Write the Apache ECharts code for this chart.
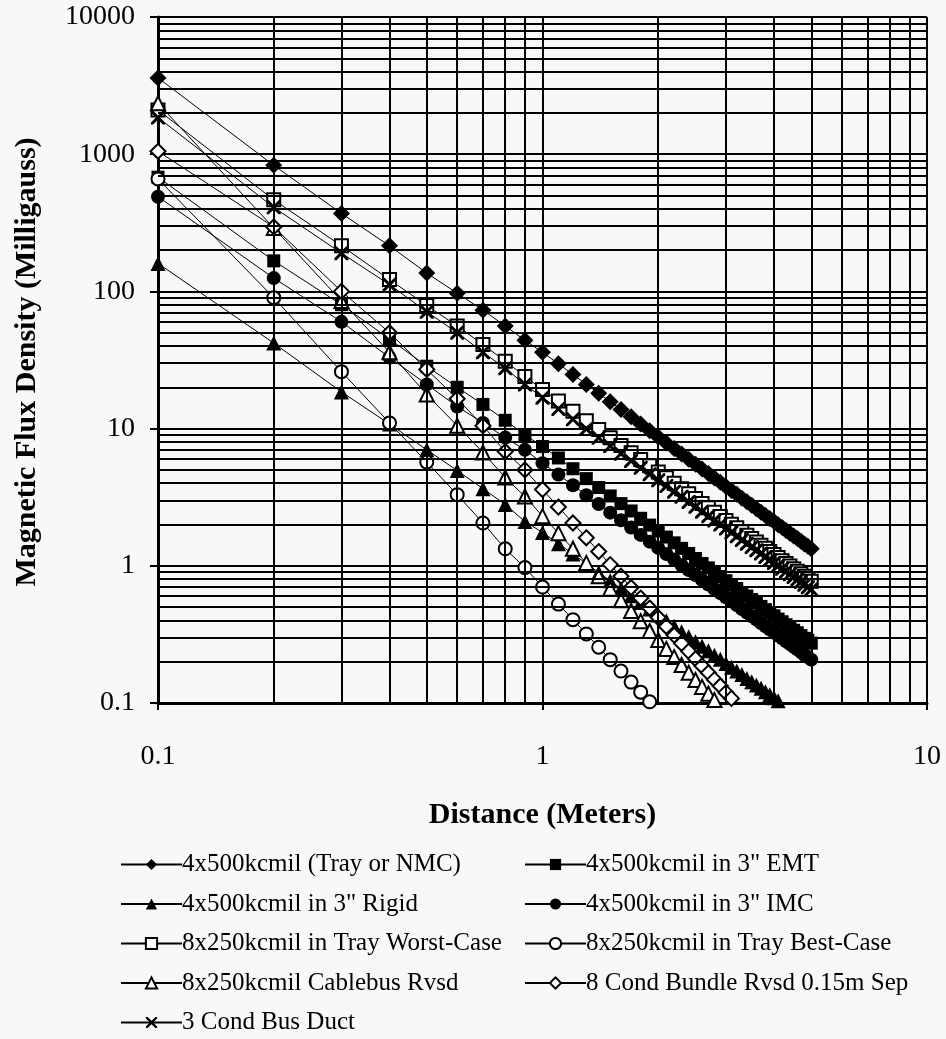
<!DOCTYPE html>
<html lang="en">
<head>
    <meta charset="utf-8"/>
    <title>Magnetic Flux Density vs Distance</title>
    <script src="https://cdn.jsdelivr.net/npm/echarts@6/dist/echarts.min.js"></script>
    <style>
        html, body { margin: 0; padding: 0; background: #f8f8f8; }
        #main { width: 946px; height: 1039px; }
    </style>
</head>
<body>
<div id="main"></div>
<script>
    // distance in meters
    var distance = [0.1, 0.2, 0.3, 0.4, 0.5, 0.6, 0.7, 0.8, 0.9, 1.0,
        1.1, 1.2, 1.3, 1.4, 1.5, 1.6, 1.7, 1.8, 1.9, 2.0,
        2.1, 2.2, 2.3, 2.4, 2.5, 2.6, 2.7, 2.8, 2.9, 3.0,
        3.1, 3.2, 3.3, 3.4, 3.5, 3.6, 3.7, 3.8, 3.9, 4.0,
        4.1, 4.2, 4.3, 4.4, 4.5, 4.6, 4.7, 4.8, 4.9, 5.0];

    // milligauss
    var trayNmc = [3600, 830, 370, 215, 136, 97, 73, 56, 44, 36,
        29.7, 24.8, 21.0, 18.1, 15.7, 13.8, 12.2, 10.8, 9.65, 8.69,
        7.86, 7.15, 6.52, 5.98, 5.50, 5.07, 4.70, 4.36, 4.06, 3.79,
        3.54, 3.32, 3.11, 2.93, 2.76, 2.61, 2.46, 2.33, 2.21, 2.10,
        1.99, 1.90, 1.81, 1.73, 1.65, 1.58, 1.51, 1.44, 1.39, 1.33];
    var emt = [680, 167, 80, 45, 28.5, 20, 15, 11.5, 9.0, 7.4,
        6.11, 5.10, 4.32, 3.72, 3.23, 2.84, 2.51, 2.22, 1.98, 1.79,
        1.62, 1.47, 1.34, 1.23, 1.13, 1.04, 0.966, 0.896, 0.835, 0.779,
        0.728, 0.683, 0.639, 0.602, 0.567, 0.537, 0.506, 0.479, 0.454, 0.432,
        0.409, 0.391, 0.372, 0.356, 0.339, 0.325, 0.310, 0.296, 0.286, 0.273];
    var rigid = [160, 42, 18.5, 10.8, 7.0, 4.95, 3.65, 2.8, 2.1, 1.75,
        1.45, 1.22, 1.04, 0.893, 0.778, 0.684, 0.606, 0.540, 0.485, 0.438,
        0.397, 0.362, 0.331, 0.304, 0.280, 0.259, 0.240, 0.223, 0.208, 0.194,
        0.182, 0.171, 0.161, 0.151, 0.143, 0.135, 0.128, 0.121, 0.115, 0.109,
        0.104, 0.0993, 0.0947, 0.0904, 0.0864, 0.0827, 0.0793, 0.0760, 0.0729, 0.070];
    var imc = [490, 125, 60, 33, 21, 14.5, 11, 8.6, 7.0, 5.6,
        4.62, 3.86, 3.27, 2.82, 2.44, 2.15, 1.90, 1.68, 1.50, 1.35,
        1.22, 1.11, 1.01, 0.930, 0.856, 0.789, 0.731, 0.678, 0.632, 0.590,
        0.551, 0.517, 0.484, 0.456, 0.429, 0.406, 0.383, 0.363, 0.344, 0.327,
        0.310, 0.296, 0.282, 0.269, 0.257, 0.246, 0.235, 0.224, 0.216, 0.207];
    var worstCase = [2100, 465, 215, 122, 79, 56, 41, 31, 24, 19.3,
        15.9, 13.4, 11.4, 9.85, 8.58, 7.54, 6.68, 5.96, 5.35, 4.83,
        4.38, 3.99, 3.65, 3.35, 3.09, 2.85, 2.65, 2.46, 2.29, 2.14,
        2.01, 1.89, 1.77, 1.67, 1.58, 1.49, 1.41, 1.34, 1.27, 1.21,
        1.15, 1.09, 1.04, 0.998, 0.953, 0.913, 0.874, 0.838, 0.803, 0.772];
    var bestCase = [660, 90, 26, 11, 5.7, 3.3, 2.05, 1.33, 0.97, 0.70,
        0.526, 0.405, 0.319, 0.255, 0.207, 0.171, 0.142, 0.120, 0.102, 0.0875,
        0.0756, 0.0657, 0.0575, 0.0506, 0.0448, 0.0398, 0.0356, 0.0319, 0.0287, 0.0259,
        0.0235, 0.0214, 0.0195, 0.0178, 0.0163, 0.0150, 0.0138, 0.0127, 0.0118, 0.0109,
        0.0102, 0.0095, 0.0088, 0.0082, 0.0077, 0.0072, 0.0067, 0.0063, 0.0060, 0.0056];
    var cablebus = [2350, 290, 85, 36, 17.7, 10.5, 6.7, 4.4, 3.2, 2.3,
        1.73, 1.33, 1.05, 0.838, 0.681, 0.561, 0.468, 0.394, 0.335, 0.288,
        0.248, 0.216, 0.189, 0.166, 0.147, 0.131, 0.117, 0.105, 0.0943, 0.0851,
        0.0773, 0.0702, 0.0639, 0.0584, 0.0536, 0.0492, 0.0453, 0.0419, 0.0389, 0.0359,
        0.0334, 0.0311, 0.0290, 0.0269, 0.0253, 0.0237, 0.0221, 0.0207, 0.0196, 0.0184];
    var bundle = [1050, 295, 100, 50, 27, 16.5, 10.5, 6.8, 5.0, 3.6,
        2.68, 2.05, 1.60, 1.27, 1.02, 0.839, 0.695, 0.582, 0.492, 0.420,
        0.361, 0.312, 0.272, 0.238, 0.210, 0.186, 0.166, 0.148, 0.133, 0.119,
        0.108, 0.0979, 0.0887, 0.0809, 0.0740, 0.0678, 0.0622, 0.0573, 0.0531, 0.0490,
        0.0453, 0.0421, 0.0392, 0.0363, 0.0341, 0.0318, 0.0297, 0.0277, 0.0261, 0.0245];
    var busDuct = [1850, 410, 190, 112, 71, 50, 36, 27.5, 21, 16.8,
        13.9, 11.7, 9.94, 8.57, 7.47, 6.56, 5.81, 5.18, 4.65, 4.20,
        3.81, 3.47, 3.18, 2.92, 2.69, 2.48, 2.30, 2.14, 2.00, 1.87,
        1.75, 1.64, 1.54, 1.45, 1.37, 1.30, 1.23, 1.16, 1.10, 1.05,
        1.00, 0.952, 0.909, 0.868, 0.830, 0.794, 0.761, 0.729, 0.699, 0.672];

    // minor grid lines (log decades)
    var xMinorTicks = [0.2, 0.3, 0.4, 0.5, 0.6, 0.7, 0.8, 0.9, 2, 3, 4, 5, 6, 7, 8, 9];
    var yDecades = [0.1, 1, 10, 100, 1000];
    var yMinorSteps = [2, 3, 4, 5, 6, 7, 8, 9];

    var legendLeft = ['4x500kcmil (Tray or NMC)', '4x500kcmil in 3" Rigid',
        '8x250kcmil in Tray Worst-Case', '8x250kcmil Cablebus Rvsd', '3 Cond Bus Duct'];
    var legendRight = ['4x500kcmil in 3" EMT', '4x500kcmil in 3" IMC',
        '8x250kcmil in Tray Best-Case', '8 Cond Bundle Rvsd 0.15m Sep'];

    var FONT = 'Liberation Serif';
    var crossPath = 'path://M0,0 L3,0 L10,7 L17,0 L20,0 L20,3 L13,10 L20,17 L20,20 L17,20 L10,13 L3,20 L0,20 L0,17 L7,10 L0,3 Z';

    var minorLines = [];
    xMinorTicks.forEach(function (v) {
        minorLines.push({xAxis: v});
    });
    yDecades.forEach(function (d) {
        yMinorSteps.forEach(function (m) {
            minorLines.push({yAxis: +(d * m).toPrecision(6)});
        });
    });

    function pairs(values) {
        return distance.map(function (d, i) {
            return [d, values[i]];
        });
    }

    function makeSeries(name, values, symbol, size, filled) {
        return {
            name: name,
            type: 'line',
            data: pairs(values),
            symbol: symbol,
            symbolSize: size,
            clip: true,
            lineStyle: {color: '#000', width: 1},
            itemStyle: filled
                ? {color: '#000'}
                : {color: '#fff', borderColor: '#000', borderWidth: 2},
            emphasis: {disabled: true}
        };
    }

    function makeLegend(left, names) {
        return {
            orient: 'vertical',
            left: left,
            top: 852,
            height: 190,
            padding: 0,
            itemWidth: 61,
            itemHeight: 14,
            itemGap: 14.5,
            selectedMode: false,
            textStyle: {fontFamily: FONT, fontSize: 25, lineHeight: 25, color: '#000', padding: [0, 0, 0, -5]},
            data: names
        };
    }

    var fmt = function (v) {
        return String(+Number(v).toPrecision(6));
    };

    var chart = echarts.init(document.getElementById('main'));
    var option = {
        backgroundColor: '#f8f8f8',
        animation: false,
        textStyle: {fontFamily: FONT, color: '#000'},
        grid: {left: 158, right: 19, top: 17, bottom: 336},
        xAxis: {
            type: 'log',
            logBase: 10,
            min: 0.1,
            max: 10,
            name: 'Distance (Meters)',
            nameLocation: 'middle',
            nameGap: 97,
            nameTextStyle: {fontFamily: FONT, fontSize: 30, fontWeight: 'bold', color: '#000'},
            axisLine: {lineStyle: {color: '#000', width: 3}},
            axisTick: {length: 7, lineStyle: {color: '#000', width: 2}},
            axisLabel: {fontFamily: FONT, fontSize: 28, color: '#000', margin: 40, formatter: fmt},
            splitLine: {show: true, lineStyle: {color: '#000', width: 2}}
        },
        yAxis: {
            type: 'log',
            logBase: 10,
            min: 0.1,
            max: 10000,
            axisLine: {show: true, lineStyle: {color: '#000', width: 3}},
            axisTick: {show: true, length: 8, lineStyle: {color: '#000', width: 2}},
            axisLabel: {fontFamily: FONT, fontSize: 28, color: '#000', margin: 23, formatter: fmt},
            splitLine: {show: true, lineStyle: {color: '#000', width: 2}}
        },
        graphic: [{
            type: 'text',
            x: 27,
            y: 362,
            rotation: Math.PI / 2,
            style: {
                text: 'Magnetic Flux Density (Milligauss)',
                font: 'bold 30px "Liberation Serif"',
                fill: '#000',
                align: 'center',
                verticalAlign: 'middle'
            }
        }],
        legend: [makeLegend(120, legendLeft), makeLegend(524, legendRight)],
        series: [
            {
                name: 'minor-grid',
                type: 'line',
                data: [],
                silent: true,
                markLine: {
                    silent: true,
                    symbol: 'none',
                    label: {show: false},
                    lineStyle: {color: '#000', width: 2, type: 'solid'},
                    data: minorLines
                }
            },
            makeSeries('4x500kcmil (Tray or NMC)', trayNmc, 'diamond', 17, true),
            makeSeries('4x500kcmil in 3" EMT', emt, 'rect', 13, true),
            makeSeries('4x500kcmil in 3" Rigid', rigid, 'triangle', 15, true),
            makeSeries('4x500kcmil in 3" IMC', imc, 'circle', 14, true),
            makeSeries('8x250kcmil in Tray Worst-Case', worstCase, 'rect', 13, false),
            makeSeries('8x250kcmil in Tray Best-Case', bestCase, 'circle', 13, false),
            makeSeries('8x250kcmil Cablebus Rvsd', cablebus, 'triangle', 14, false),
            makeSeries('8 Cond Bundle Rvsd 0.15m Sep', bundle, 'diamond', 15, false),
            makeSeries('3 Cond Bus Duct', busDuct, crossPath, 14, true)
        ]
    };
    chart.setOption(option);
</script>
</body>
</html>
